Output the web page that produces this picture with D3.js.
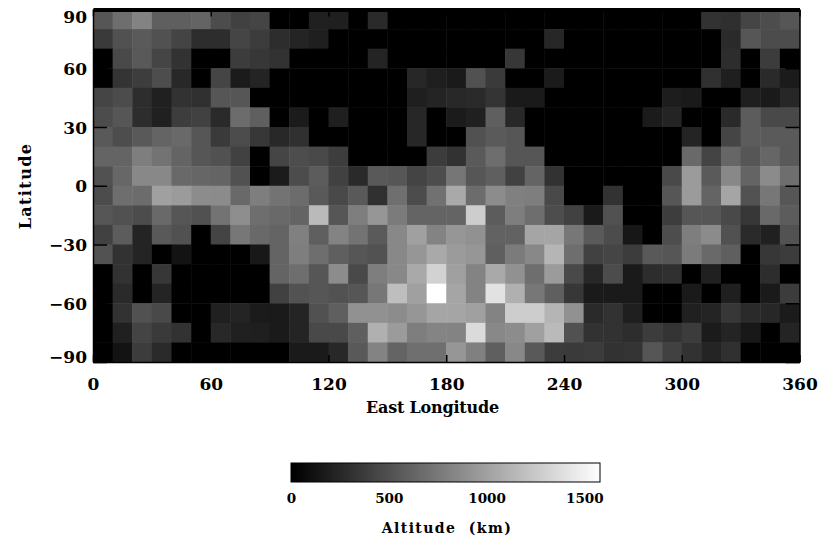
<!DOCTYPE html>
<html lang="en">
<head>
<meta charset="utf-8">
<title>Altitude map</title>
<script src="https://d3js.org/d3.v7.min.js"></script>
<style>
body { margin: 0; background: #fff; }
svg { display: block; }
text { font-family: 'DejaVu Serif', serif; font-weight: bold; fill: #000; }
</style>
</head>
<body>
<svg width="821" height="539"></svg>
<script>
// altitude in km, one row per 10 deg of latitude, north to south
var row85  = [530,680,810,590,590,620,470,400,430,0,0,200,190,0,260,0,0,0,0,0,0,0,0,0,0,0,0,0,0,0,0,310,290,430,480,530];
var row75  = [360,500,560,500,420,280,280,430,370,280,220,190,0,0,0,0,0,0,0,0,0,0,0,240,0,0,0,0,0,0,0,0,260,530,470,470];
var row65  = [0,450,550,430,310,0,0,370,340,310,0,0,0,0,220,0,0,0,0,0,0,340,0,0,0,0,0,0,0,0,0,0,280,0,370,0];
var row55  = [0,320,380,480,250,0,430,170,220,0,0,0,0,0,0,0,240,190,160,500,360,0,0,170,0,0,0,0,0,0,0,300,190,0,260,170];
var row45  = [430,470,280,200,310,300,530,530,0,0,0,0,0,0,0,0,190,220,250,260,320,160,160,0,0,0,0,0,0,180,160,0,0,190,160,240];
var row35  = [470,530,280,200,380,400,260,670,590,0,170,0,190,0,0,0,240,0,170,200,590,250,0,0,0,0,0,0,170,220,0,0,260,570,450,450];
var row25  = [550,480,550,620,650,530,360,470,340,250,300,0,0,0,0,0,240,0,0,500,560,530,0,0,0,0,0,0,0,0,220,0,430,570,560,560];
var row15  = [620,620,780,710,620,530,500,400,0,430,480,450,380,0,0,0,0,370,310,560,680,530,530,0,0,0,0,0,0,0,650,420,630,530,630,550];
var row5   = [500,640,840,840,650,630,620,500,0,170,470,570,400,260,550,530,420,480,730,530,590,400,620,310,0,0,0,0,0,450,960,560,840,620,860,680];
var rowS5  = [470,680,670,990,960,870,860,650,780,710,670,550,450,550,300,690,470,700,1050,670,870,790,780,450,0,0,310,0,0,530,960,620,1020,510,740,530];
var rowS15 = [530,500,470,650,530,500,710,880,680,650,620,1150,530,780,930,760,620,620,620,1270,570,780,680,480,400,160,500,0,0,380,530,530,450,340,650,570];
var rowS25 = [400,570,220,550,500,0,420,740,650,620,790,590,810,710,560,840,990,810,930,900,610,610,1020,1020,740,560,470,140,0,480,780,860,500,260,200,510];
var rowS35 = [510,310,220,0,120,0,0,0,150,620,780,680,590,530,510,840,930,1050,960,930,590,760,840,1120,680,400,430,370,550,530,760,650,590,0,340,370];
var rowS45 = [0,310,0,340,0,0,0,0,0,620,680,530,870,450,780,840,1050,1300,990,810,1050,900,680,960,450,240,470,160,280,300,0,200,0,0,280,0];
var rowS55 = [0,260,0,220,0,0,0,0,0,400,510,530,510,530,740,1180,990,1580,1020,810,1400,1090,740,590,340,160,160,160,0,0,160,0,190,0,160,370];
var rowS65 = [0,310,500,450,0,0,200,220,170,160,220,500,590,900,900,870,930,1020,1020,990,810,1270,1270,1120,900,260,310,190,0,0,200,220,340,260,240,170];
var rowS75 = [0,200,420,360,310,0,250,200,190,160,220,450,450,590,1090,960,780,820,810,1360,840,870,990,1150,500,310,310,280,370,320,370,170,220,150,0,220];
var rowS85 = [0,120,370,260,0,0,0,0,0,0,160,160,250,550,810,620,690,690,930,790,590,840,550,370,360,370,310,320,530,400,310,220,300,0,0,0];
var altitude = [row85,row75,row65,row55,row45,row35,row25,row15,row5,rowS5,rowS15,rowS25,rowS35,rowS45,rowS55,rowS65,rowS75,rowS85];

var lonTicks = [0,60,120,180,240,300,360];
var latTicks = [-90,-60,-30,0,30,60,90];
var barTicks = [0,500,1000,1500];
var barMax = 1580;

var svg = d3.select("svg");

var x = d3.scaleLinear().domain([0,360]).range([93,799.5]);
var y = d3.scaleLinear().domain([-90,90]).range([362,9.5]);
var grey = d3.scaleLinear().domain([0,barMax]).range(["#000000","#ffffff"]).clamp(true);

// map cells
altitude.forEach(function(row,j) {
  svg.selectAll("c").data(row).enter().append("rect")
  .attr("x",function(d,i){return x(i*10)})
  .attr("y",y(90-j*10))
  .attr("width",x(10)-x(0)+0.5)
  .attr("height",y(80)-y(90)+0.5)
  .attr("fill",function(d){return grey(d)});
});

var minus = function(d){return String(d).replace("-","\u2212")};

var bottom = svg.append("g").attr("transform","translate(0,"+y(-90)+")")
.call(d3.axisBottom(x).tickValues(lonTicks).tickSizeInner(-7).tickSizeOuter(0).tickPadding(16).tickFormat(minus));
var top_ = svg.append("g").attr("transform","translate(0,"+y(90)+")")
.call(d3.axisTop(x).tickValues(lonTicks).tickSizeInner(-7).tickSizeOuter(0).tickFormat(""));
var left = svg.append("g").attr("transform","translate("+x(0)+",0)")
.call(d3.axisLeft(y).tickValues(latTicks).tickSizeInner(-14).tickSizeOuter(0).tickPadding(6).tickFormat(minus));
var right = svg.append("g").attr("transform","translate("+x(360)+",0)")
.call(d3.axisRight(y).tickValues(latTicks).tickSizeInner(-14).tickSizeOuter(0).tickFormat(""));

[bottom,top_,left,right].forEach(function(g){
  g.selectAll("path").attr("stroke","#000").attr("stroke-width",1.5);
  g.selectAll("line").attr("stroke","#000").attr("stroke-width",1.5);
  g.selectAll("text").attr("font-size",17).attr("font-family","'DejaVu Serif', serif");
});
// top of the frame is heavier and covers the top of the first row
top_.select("path").attr("stroke-width",4);

// the end labels of the latitude axis sit inside the frame height
left.selectAll(".tick text").attr("dy",function(d){
  if(d==90){return "0.76em"}
  if(d==-90){return "0em"}
  return "0.36em"});

svg.append("text").attr("x",432.5).attr("y",413).attr("text-anchor","middle")
.attr("font-size",16).attr("letter-spacing",-0.2).text("East Longitude");
svg.append("text").attr("transform","translate(31,186) rotate(-90)").attr("text-anchor","middle")
.attr("font-size",16).attr("letter-spacing",1.4).text("Latitude");

// colour bar
var bx = d3.scaleLinear().domain([0,barMax]).range([291,600]);
var steps = d3.range(0,barMax,barMax/128);
svg.selectAll("b").data(steps).enter().append("rect")
.attr("x",function(d){return bx(d)})
.attr("y",463)
.attr("width",bx(barMax/128)-bx(0)+1)
.attr("height",19)
.attr("shape-rendering","crispEdges")
.attr("fill",function(d){return grey(d)});
svg.append("rect").attr("x",bx(0)).attr("y",463).attr("width",bx(barMax)-bx(0)).attr("height",19)
.attr("fill","none").attr("stroke","#000").attr("stroke-width",1);
var bar = svg.append("g").attr("transform","translate(0,482)")
.call(d3.axisBottom(bx).tickValues(barTicks).tickSize(0).tickPadding(11).tickFormat(d3.format("d")));
bar.select("path").remove();
bar.selectAll("text").attr("font-size",13.5).attr("font-family","'DejaVu Serif', serif");

svg.append("text").attr("x",447).attr("y",533).attr("text-anchor","middle")
.attr("font-size",14).attr("letter-spacing",1.4).attr("xml:space","preserve").text("Altitude  (km)");
</script>
</body>
</html>
